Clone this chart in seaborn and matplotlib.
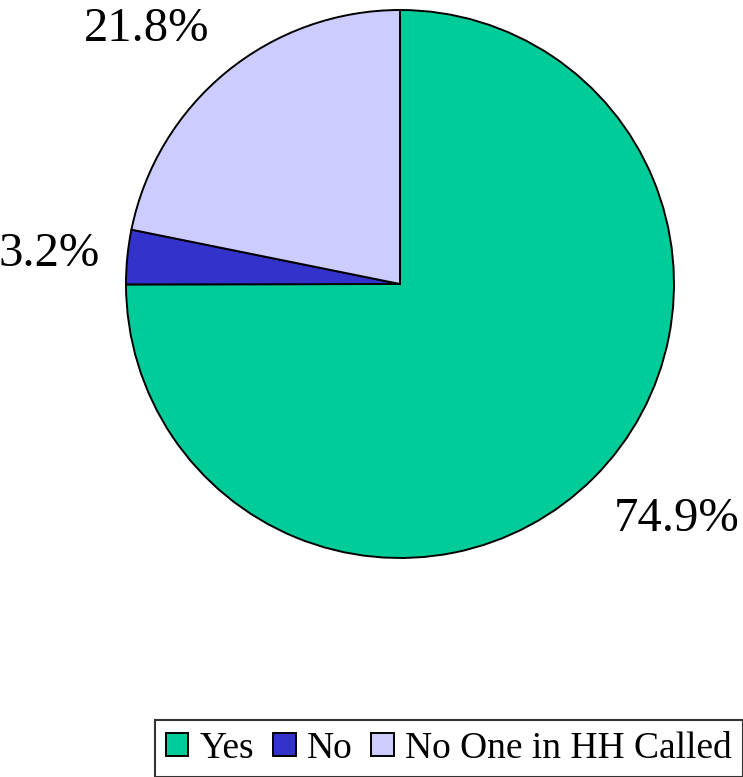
import numpy as np
import matplotlib
matplotlib.use('Agg')
import matplotlib.pyplot as plt
import seaborn as sns

# ── Data ──────────────────────────────────────────────────────────────────────
labels = ['Yes', 'No', 'No One in HH Called']
shares = [74.9, 3.2, 21.8]
colors = ['#00CC99', '#3333CC', '#CCCCFF']

sns.set_theme(style='white')
plt.rcParams['font.family'] = ['Liberation Serif', 'DejaVu Serif']
plt.rcParams['text.color'] = 'black'

fig = plt.figure(figsize=(7.43, 7.77), dpi=100)
ax = fig.add_axes([126/743, 1 - 558/777, 548/743, 548/777])

wedges, _ = ax.pie(shares, colors=colors, startangle=90, counterclock=False,
                   wedgeprops={'edgecolor': 'black', 'linewidth': 1.4})
ax.set_xlim(-1, 1)
ax.set_ylim(-1, 1)
ax.set_aspect('equal')
ax.axis('off')

# percentage labels just outside each wedge, anchored on the side nearest the pie
for w, v in zip(wedges, shares):
    mid = np.deg2rad((w.theta1 + w.theta2) / 2)
    c, s = np.cos(mid), np.sin(mid)
    ha = 'left' if c > 0.3 else ('right' if c < -0.3 else 'center')
    va = 'bottom' if s > 0.3 else ('top' if s < -0.3 else 'center')
    ax.text(1.1 * c, 1.1 * s, f'{v:.1f}%', ha=ha, va=va,
            fontsize=35, color='black', clip_on=False)

leg = fig.legend(wedges, labels, ncol=3, loc='lower right',
                 bbox_to_anchor=(1.0, 0.0), fontsize=27,
                 frameon=True, fancybox=False, edgecolor='black',
                 handlelength=0.6, handleheight=0.6, handletextpad=0.3,
                 columnspacing=0.5, borderpad=0.3, borderaxespad=0.0)
leg.get_frame().set_linewidth(1.5)
for t in leg.get_texts():
    t.set_color('black')

plt.savefig('out.png', dpi=100, facecolor='white')
